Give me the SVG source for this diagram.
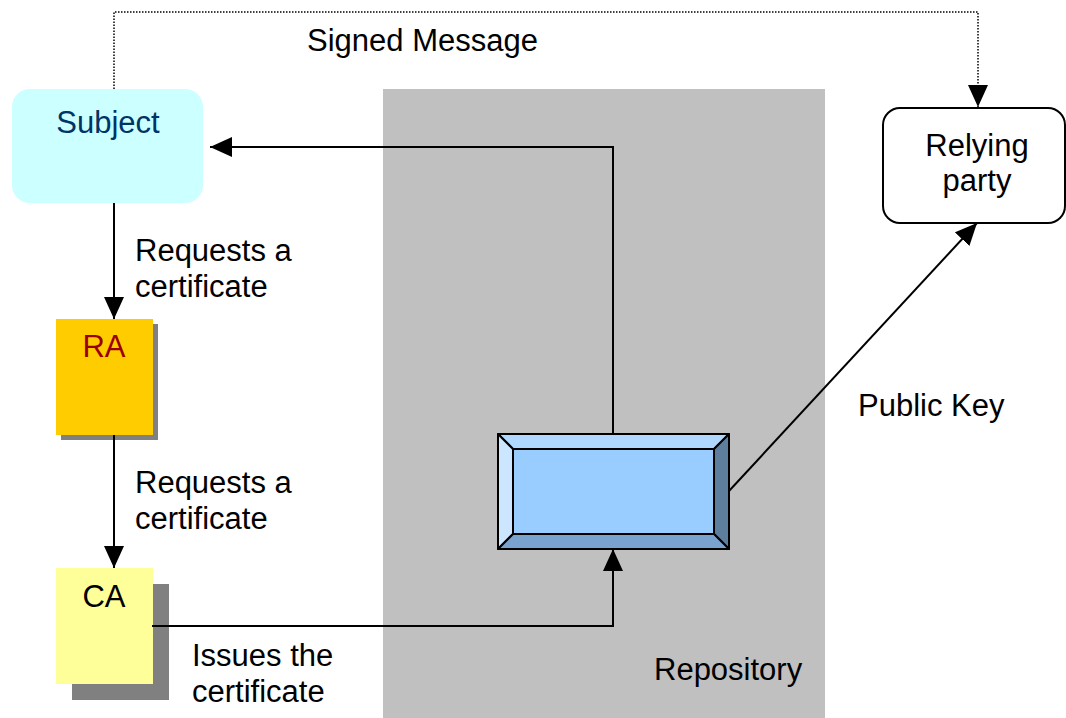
<svg xmlns="http://www.w3.org/2000/svg" width="1066" height="718" viewBox="0 0 1066 718">
<defs>
<style>
text{font-family:"Liberation Sans",Arial,sans-serif;font-size:31px;fill:#000}
.ln{fill:none;stroke:#000;stroke-width:2}
.dot{fill:none;stroke:#000;stroke-width:1.5;stroke-dasharray:1.5 1.5}
.bev{stroke:#000;stroke-width:2;stroke-linejoin:round}
</style>
<marker id="ah" markerUnits="userSpaceOnUse" markerWidth="22" markerHeight="20" refX="22" refY="10" orient="auto">
<path d="M0,0 L22,10 L0,20 z" fill="#000"/>
</marker>
</defs>
<rect width="1066" height="718" fill="#fff"/>
<g id="repository">
<rect x="383" y="89" width="442" height="629" fill="#C0C0C0"/>
<text x="654" y="680">Repository</text>
</g>
<g id="store">
<polygon class="bev" points="498,434 729,434 714,449 513,449" fill="#B0D8FF"/>
<polygon class="bev" points="498,434 513,449 513,534 498,549" fill="#CCE6FF"/>
<polygon class="bev" points="729,434 729,549 714,534 714,449" fill="#5E7E9E"/>
<polygon class="bev" points="498,549 513,534 714,534 729,549" fill="#7AA2CE"/>
<rect class="bev" x="513" y="449" width="201" height="85" fill="#99CCFF"/>
</g>
<g id="subject">
<rect x="12" y="89" width="191" height="114" rx="18" fill="#CCFFFF"/>
<text x="108" y="133" text-anchor="middle" style="fill:#003366">Subject</text>
</g>
<g id="ra">
<rect x="61" y="324" width="97" height="116" fill="#808080"/>
<rect x="56" y="319" width="97" height="116" fill="#FFCC00"/>
<text x="104" y="357" text-anchor="middle" style="fill:#990000">RA</text>
</g>
<g id="ca">
<rect x="72" y="584" width="97" height="116" fill="#808080"/>
<rect x="56" y="568" width="97" height="116" fill="#FFFF99"/>
<text x="104" y="607" text-anchor="middle">CA</text>
</g>
<g id="relying">
<rect x="883" y="108" width="182" height="115" rx="17" fill="#fff" stroke="#000" stroke-width="2"/>
<text x="977" y="156" text-anchor="middle">Relying</text>
<text x="977" y="191" text-anchor="middle">party</text>
</g>
<g id="connectors">
<polyline class="dot" points="114,89 114,12 978,12 978,107" marker-end="url(#ah)"/>
<polyline class="ln" points="613,434 613,147 210,147" marker-end="url(#ah)"/>
<line class="ln" x1="114" y1="203" x2="114" y2="319" marker-end="url(#ah)"/>
<line class="ln" x1="114" y1="435" x2="114" y2="568" marker-end="url(#ah)"/>
<polyline class="ln" points="152,626 613,626 613,549" marker-end="url(#ah)"/>
<line class="ln" x1="729" y1="491" x2="977" y2="223" marker-end="url(#ah)"/>
</g>
<g id="labels">
<text x="307" y="51">Signed Message</text>
<text x="135" y="261">Requests a</text>
<text x="135" y="297">certificate</text>
<text x="135" y="493">Requests a</text>
<text x="135" y="529">certificate</text>
<text x="192" y="666">Issues the</text>
<text x="192" y="702">certificate</text>
<text x="858" y="416">Public Key</text>
</g>
</svg>
